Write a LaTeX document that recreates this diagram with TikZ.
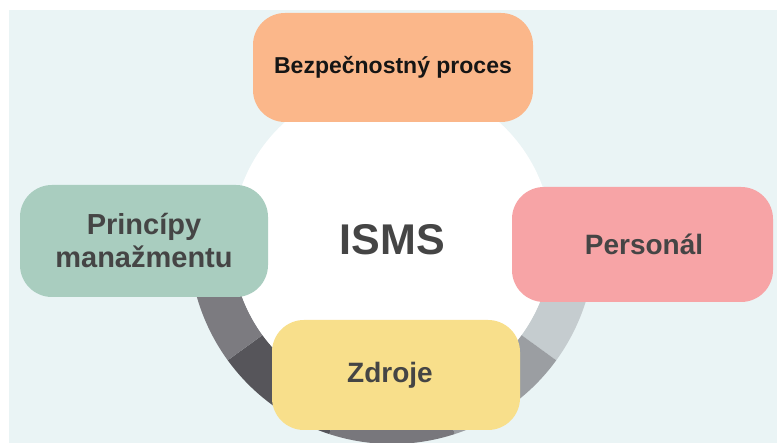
\documentclass[tikz,border=0pt]{standalone}
\usepackage{fontspec}
\setmainfont{Liberation Sans}
\definecolor{bgc}{HTML}{EAF4F5}
\definecolor{orangec}{HTML}{FBB78A}
\definecolor{greenc}{HTML}{A9CDBF}
\definecolor{redc}{HTML}{F7A4A6}
\definecolor{yellowc}{HTML}{F8DF8B}
\definecolor{txtc}{HTML}{454545}
\definecolor{darktxt}{HTML}{151515}
\definecolor{ringA}{HTML}{C5CCCF}
\definecolor{ringB}{HTML}{9B9EA2}
\definecolor{ringC}{HTML}{78777C}
\definecolor{ringD}{HTML}{56555A}
\definecolor{ringE}{HTML}{7C7B80}
\begin{document}
\begin{tikzpicture}[x=1pt,y=1pt,
  box/.style={rounded corners=32pt, inner sep=0pt, text=txtc, font=\bfseries, align=center}]
\useasboundingbox (0,0) rectangle (777,443);
\fill[white] (0,0) rectangle (777,443);
\fill[bgc] (9,0) rectangle (777,433);
% ring
\foreach \a/\b/\col in {0/-36/ringA,-36/-72/ringB,-72/-108/ringC,-108/-144/ringD,-144/-180/ringE}{
  \fill[\col, shift={(392,202)}] (\a:160pt) -- (\a:203pt) arc[start angle=\a, end angle=\b, radius=203pt] -- (\b:160pt) arc[start angle=\b, end angle=\a, radius=160pt] -- cycle;
}
\fill[white] (392,202) circle[radius=160pt];
\node[text=txtc, font=\bfseries\fontsize{43}{50}\selectfont] (isms) at (392.5,203) {ISMS};
\node[box, fill=orangec, minimum width=280pt, minimum height=109pt, text=darktxt, font=\bfseries\fontsize{23}{27}\selectfont] (proc) at (393,375.5) {Bezpečnostný proces};
\node[box, fill=greenc, minimum width=248pt, minimum height=112pt, font=\bfseries\fontsize{29}{33}\selectfont] (princ) at (144,202) {Princípy\\manažmentu};
\node[box, fill=redc, minimum width=261pt, minimum height=115pt, font=\bfseries\fontsize{28}{33}\selectfont] (pers) at (642.5,198.5) {\hspace*{3pt}Personál};
\node[box, fill=yellowc, minimum width=248pt, minimum height=110pt, font=\bfseries\fontsize{28}{33}\selectfont] (zdr) at (396,68) {Zdroje\hspace*{12pt}};
\end{tikzpicture}
\end{document}
